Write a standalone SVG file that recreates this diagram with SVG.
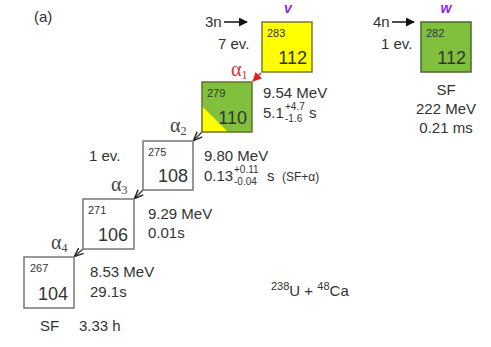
<svg xmlns="http://www.w3.org/2000/svg" width="491" height="347" viewBox="0 0 491 347">
<style>
text{font-family:"Liberation Sans",Arial,sans-serif;fill:#333}
.lab{font-size:15px}
.sm{font-size:11px}
.big{font-size:18px}
.al{font-family:"Liberation Serif","Times New Roman",serif;font-size:20px;fill:#444}
.box{fill:#fff;stroke:#777;stroke-width:1.5}
.conn{stroke:#333;stroke-width:1.3;fill:none;marker-end:url(#ah)}
.let{font-size:14px;font-weight:bold;font-style:italic;fill:#8a2be2}
.ss{font-size:10px}
</style>
<defs>
<marker id="ah" viewBox="0 0 10 10" refX="9" refY="5" markerWidth="7" markerHeight="7" orient="auto"><path d="M0,1 L10,5 L0,9" fill="none" stroke="#222" stroke-width="1.5"/></marker>
<marker id="ahr" viewBox="0 0 10 10" refX="9" refY="5" markerWidth="6" markerHeight="6" orient="auto"><path d="M0,0 L10,5 L0,10 z" fill="#e02020"/></marker>
<marker id="ahb" viewBox="0 0 10 10" refX="9" refY="5" markerWidth="6" markerHeight="6" orient="auto"><path d="M0,0 L10,5 L0,10 z" fill="#111"/></marker>
</defs>
<text x="34" y="22" class="lab">(a)</text>

<g id="connectors">
<line x1="261" y1="73" x2="253" y2="81" stroke="#e02020" stroke-width="1.5" marker-end="url(#ahr)"/>
<line x1="202" y1="132" x2="194" y2="140" class="conn"/>
<line x1="143" y1="190" x2="135" y2="198" class="conn"/>
<line x1="83" y1="249" x2="75" y2="256" class="conn"/>
<line x1="224" y1="22" x2="247" y2="22" stroke="#111" stroke-width="1.5" marker-end="url(#ahb)"/>
<line x1="392" y1="22" x2="414" y2="22" stroke="#111" stroke-width="1.5" marker-end="url(#ahb)"/>
</g>

<g id="n283">
<rect x="262" y="22" width="50" height="50" fill="#ffff00" stroke="#7a7a30" stroke-width="1.5"/>
<text x="267" y="37" class="sm">283</text>
<text x="307" y="64" class="big" text-anchor="end">112</text>
<text x="288" y="13" class="let" text-anchor="middle">v</text>
<text x="205" y="27" class="lab">3n</text>
<text x="218" y="49" class="lab">7 ev.</text>
</g>

<g id="n282">
<rect x="421" y="22" width="50" height="50" fill="#80c03c" stroke="#4a6a2a" stroke-width="1.5"/>
<text x="426" y="37" class="sm">282</text>
<text x="466" y="64" class="big" text-anchor="end">112</text>
<text x="446" y="13" class="let" text-anchor="middle">w</text>
<text x="373" y="27" class="lab">4n</text>
<text x="381" y="49" class="lab">1 ev.</text>
<text x="446" y="95" class="lab" text-anchor="middle">SF</text>
<text x="446" y="114" class="lab" text-anchor="middle">222 MeV</text>
<text x="446" y="133" class="lab" text-anchor="middle">0.21 ms</text>
</g>

<g id="n279">
<rect x="202" y="82" width="50" height="50" fill="#80c03c"/>
<path d="M202,106 L228,132 L202,132 z" fill="#ffff00"/>
<rect x="202" y="82" width="50" height="50" fill="none" stroke="#6a7030" stroke-width="1.5"/>
<text x="207" y="97" class="sm">279</text>
<text x="247" y="124" class="big" text-anchor="end">110</text>
<text x="231" y="76" class="al" style="fill:#d03030">α<tspan font-size="12" dy="3">1</tspan></text>
<text x="263" y="98" class="lab">9.54 MeV</text>
<text x="263" y="118" class="lab">5.1</text>
<text x="285" y="110" class="ss">+4.7</text>
<text x="285" y="122" class="ss">-1.6</text>
<text x="309" y="118" class="lab">s</text>
</g>

<g id="n275">
<rect x="143" y="141" width="50" height="49" class="box"/>
<text x="148" y="156" class="sm">275</text>
<text x="188" y="182" class="big" text-anchor="end">108</text>
<text x="170" y="132" class="al">α<tspan font-size="12" dy="3">2</tspan></text>
<text x="89" y="161" class="lab">1 ev.</text>
<text x="204" y="161" class="lab">9.80 MeV</text>
<text x="204" y="181" class="lab">0.13</text>
<text x="234" y="173" class="ss">+0.11</text>
<text x="234" y="185" class="ss">-0.04</text>
<text x="267" y="181" class="lab">s</text>
<text x="282" y="181" font-size="12">(SF+α)</text>
</g>

<g id="n271">
<rect x="83" y="199" width="51" height="50" class="box"/>
<text x="88" y="214" class="sm">271</text>
<text x="128" y="241" class="big" text-anchor="end">106</text>
<text x="111" y="191" class="al">α<tspan font-size="12" dy="3">3</tspan></text>
<text x="148" y="219" class="lab">9.29 MeV</text>
<text x="148" y="238" class="lab">0.01s</text>
</g>

<g id="n267">
<rect x="24" y="257" width="50" height="51" class="box"/>
<text x="30" y="272" class="sm">267</text>
<text x="68" y="300" class="big" text-anchor="end">104</text>
<text x="51" y="249" class="al">α<tspan font-size="12" dy="3">4</tspan></text>
<text x="90" y="277" class="lab">8.53 MeV</text>
<text x="90" y="297" class="lab">29.1s</text>
<text x="40" y="331" class="lab">SF</text>
<text x="79" y="331" class="lab">3.33 h</text>
</g>

<text x="271" y="296" class="lab"><tspan font-size="11" dy="-6">238</tspan><tspan dy="6">U + </tspan><tspan font-size="11" dy="-6">48</tspan><tspan dy="6">Ca</tspan></text>
</svg>
